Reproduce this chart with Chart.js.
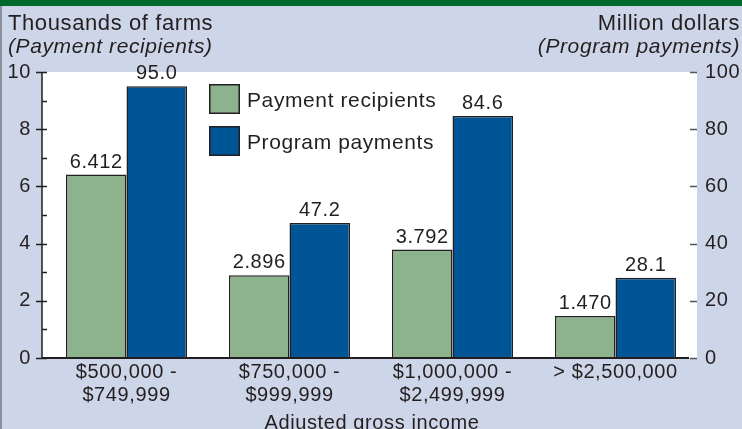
<!DOCTYPE html>
<html>
<head>
<meta charset="utf-8">
<script src="https://cdn.jsdelivr.net/npm/chart.js@4"></script>
<style>
  html, body { margin: 0; padding: 0; background: #cdd5e8; }
  #wrap { width: 742px; height: 429px; }
</style>
</head>
<body>
<div id="wrap"><canvas id="farmChart" width="742" height="429"></canvas></div>
<script>
// Data
const incomeGroups = [
  ["$500,000 -", "$749,999"],
  ["$750,000 -", "$999,999"],
  ["$1,000,000 -", "$2,499,999"],
  "> $2,500,000",
];
const recipients = [6.412, 2.896, 3.792, 1.47]; // thousands of farms
const payments = [95.0, 47.2, 84.6, 28.1]; // million dollars
const leftTicks = [0, 2, 4, 6, 8, 10];
const rightTicks = [0, 20, 40, 60, 80, 100];

const FONT = "'Liberation Sans', Arial, sans-serif";
const INK = "#231f20";
const AXIS_SHIFT = 3; // axis line sits a little left of the first slot

// background, white plot area, ticks, titles, legend and value labels
const decor = {
  id: "decor",
  beforeDraw(chart) {
    const { ctx, chartArea: a } = chart;
    ctx.save();
    ctx.fillStyle = "#cdd5e8";
    ctx.fillRect(0, 0, chart.width, chart.height);
    ctx.fillStyle = "#006a2e";
    ctx.fillRect(0, 0, chart.width, 6);
    ctx.fillStyle = "#8a8f99";
    ctx.fillRect(0, 6, 2, chart.height - 6);
    ctx.fillStyle = "#ffffff";
    ctx.fillRect(a.left - AXIS_SHIFT, a.top, a.right - a.left + AXIS_SHIFT, a.bottom - a.top);
    ctx.restore();
    // a bit of tracking, like the original typesetting
    ctx.letterSpacing = "0.6px";
  },
  afterDraw(chart) {
    const { ctx, chartArea: a } = chart;
    const yl = chart.scales.y;
    const yr = chart.scales.y2;
    const ax = a.left - AXIS_SHIFT;
    ctx.save();

    // left axis line + ticks
    ctx.strokeStyle = INK;
    ctx.lineWidth = 1.5;
    ctx.beginPath();
    ctx.moveTo(ax, a.top);
    ctx.lineTo(ax, a.bottom);
    for (let v = 0; v <= 10; v++) {
      const y = Math.round(yl.getPixelForValue(v)) + 0.5;
      const major = v % 2 === 0;
      ctx.moveTo(major ? ax - 6 : ax, y);
      ctx.lineTo(ax + 5, y);
    }
    ctx.stroke();

    // right axis ticks
    ctx.strokeStyle = "#555";
    ctx.beginPath();
    rightTicks.forEach((v) => {
      const y = Math.round(yr.getPixelForValue(v)) + 0.5;
      ctx.moveTo(a.right - 7, y);
      ctx.lineTo(a.right, y);
    });
    ctx.stroke();

    // baseline
    ctx.strokeStyle = INK;
    ctx.lineWidth = 2;
    ctx.beginPath();
    ctx.moveTo(ax, a.bottom);
    ctx.lineTo(a.right - 8, a.bottom);
    ctx.stroke();

    // axis titles
    ctx.fillStyle = INK;
    ctx.font = "22px " + FONT;
    ctx.textBaseline = "alphabetic";
    ctx.textAlign = "left";
    ctx.fillText("Thousands of farms", 8, 30);
    ctx.textAlign = "right";
    ctx.fillText("Million dollars", 740, 30);
    ctx.font = "italic 21px " + FONT;
    ctx.textAlign = "left";
    ctx.fillText("(Payment recipients)", 8, 53);
    ctx.textAlign = "right";
    ctx.fillText("(Program payments)", 740, 53);
    ctx.font = "20px " + FONT;
    ctx.textAlign = "center";
    ctx.fillText("Adjusted gross income", 372, 429);

    // legend
    const items = chart.data.datasets;
    items.forEach((ds, i) => {
      const bx = 209, by = 84 + i * 42;
      ctx.fillStyle = ds.backgroundColor;
      ctx.fillRect(bx, by, 31, 30);
      ctx.strokeStyle = INK;
      ctx.lineWidth = 1.5;
      ctx.strokeRect(bx + 0.75, by + 0.75, 29.5, 28.5);
      ctx.fillStyle = INK;
      ctx.font = "21px " + FONT;
      ctx.textAlign = "left";
      ctx.textBaseline = "alphabetic";
      ctx.fillText(ds.label, 247, by + 23);
    });

    // value labels
    ctx.font = "20px " + FONT;
    ctx.textAlign = "center";
    ctx.textBaseline = "alphabetic";
    ctx.fillStyle = INK;
    items.forEach((ds, i) => {
      chart.getDatasetMeta(i).data.forEach((bar, j) => {
        const txt = i === 0 ? ds.data[j].toFixed(3) : ds.data[j].toFixed(1);
        ctx.fillText(txt, bar.x, bar.y - 7);
      });
    });
    ctx.restore();
  },
};

const ctx = document.getElementById("farmChart").getContext("2d");
const farmChart = new Chart(ctx, {
  type: "bar",
  data: {
    labels: incomeGroups,
    datasets: [
      {
        label: "Payment recipients",
        data: recipients,
        yAxisID: "y",
        backgroundColor: "#8db38e",
        borderColor: INK,
        borderWidth: 1.5,
      },
      {
        label: "Program payments",
        data: payments,
        yAxisID: "y2",
        backgroundColor: "#005596",
        borderColor: INK,
        borderWidth: 1.5,
      },
    ],
  },
  options: {
    responsive: false,
    animation: false,
    devicePixelRatio: 1,
    layout: { padding: { top: 72 } },
    categoryPercentage: 0.743,
    barPercentage: 1,
    scales: {
      x: {
        grid: { display: false, drawTicks: false },
        border: { display: false },
        ticks: {
          color: INK,
          font: { family: FONT, size: 20, lineHeight: 1.15 },
          padding: 3,
          maxRotation: 0,
          autoSkip: false,
        },
        afterFit: (s) => { s.height = 71; },
      },
      y: {
        position: "left",
        min: 0,
        max: 10,
        grid: { display: false, drawTicks: false },
        border: { display: false },
        ticks: {
          stepSize: 1,
          color: INK,
          font: { family: FONT, size: 20 },
          padding: 14,
          callback: (v) => (leftTicks.includes(v) ? v : ""),
        },
        afterFit: (s) => { s.width = 45; },
      },
      y2: {
        position: "right",
        min: 0,
        max: 100,
        grid: { display: false, drawTicks: false },
        border: { display: false },
        ticks: {
          stepSize: 20,
          color: INK,
          font: { family: FONT, size: 20 },
          padding: 8,
        },
        afterFit: (s) => { s.width = 45; },
      },
    },
    plugins: {
      legend: { display: false },
      tooltip: { enabled: false },
    },
  },
  plugins: [decor],
});
</script>
</body>
</html>
